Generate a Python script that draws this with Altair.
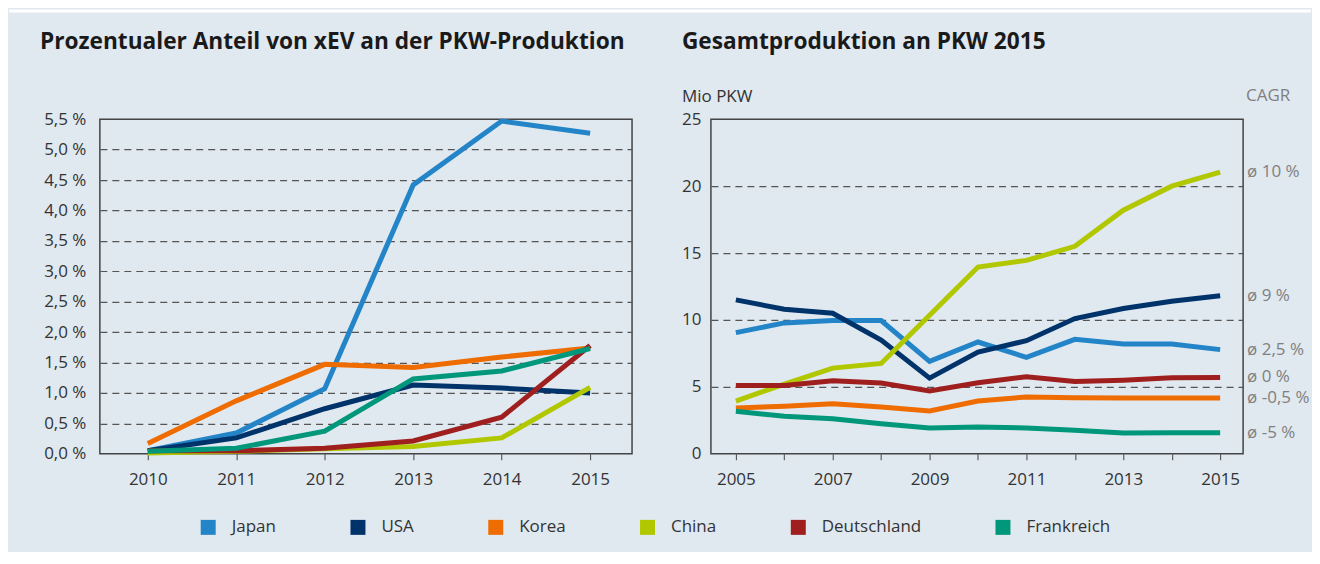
import altair as alt
import pandas as pd

# ---------------- data ----------------
countries = ["Japan", "USA", "Korea", "China", "Deutschland", "Frankreich"]
colors = ["#2385C7", "#00336A", "#EF6C00", "#B1C800", "#9F1F1F", "#00977A"]

years_share = [2010, 2011, 2012, 2013, 2014, 2015]
share_japan = [0.05, 0.34, 1.07, 4.42, 5.47, 5.27]
share_usa = [0.05, 0.26, 0.74, 1.13, 1.08, 1.00]
share_korea = [0.17, 0.87, 1.47, 1.42, 1.59, 1.74]
share_china = [0.01, 0.04, 0.08, 0.12, 0.26, 1.09]
share_germany = [0.05, 0.05, 0.09, 0.21, 0.60, 1.78]
share_france = [0.04, 0.09, 0.37, 1.23, 1.36, 1.73]

years_prod = [2005, 2006, 2007, 2008, 2009, 2010, 2011, 2012, 2013, 2014, 2015]
prod_japan = [9.05, 9.78, 9.95, 9.95, 6.90, 8.35, 7.20, 8.55, 8.20, 8.20, 7.78]
prod_usa = [11.50, 10.80, 10.50, 8.50, 5.65, 7.60, 8.45, 10.10, 10.85, 11.40, 11.80]
prod_korea = [3.42, 3.55, 3.74, 3.49, 3.19, 3.94, 4.24, 4.19, 4.16, 4.16, 4.16]
prod_china = [3.94, 5.20, 6.40, 6.75, 10.35, 13.95, 14.45, 15.50, 18.20, 20.00, 21.05]
prod_germany = [5.10, 5.10, 5.45, 5.28, 4.70, 5.30, 5.75, 5.40, 5.50, 5.68, 5.70]
prod_france = [3.17, 2.80, 2.62, 2.24, 1.92, 2.00, 1.93, 1.75, 1.55, 1.57, 1.57]

cagr_labels = ["ø 2,5 %", "ø 9 %", "ø -0,5 %", "ø 10 %", "ø 0 %", "ø -5 %"]

share_ticks = [0, 0.5, 1.0, 1.5, 2.0, 2.5, 3.0, 3.5, 4.0, 4.5, 5.0, 5.5]
prod_ticks = [0, 5, 10, 15, 20, 25]

title_left = "Prozentualer Anteil von xEV an der PKW-Produktion"
title_right = "Gesamtproduktion an PKW 2015"
unit_right = "Mio PKW"
cagr_header = "CAGR"

# ---------------- tables ----------------
share_series = [share_japan, share_usa, share_korea, share_china, share_germany, share_france]
prod_series = [prod_japan, prod_usa, prod_korea, prod_china, prod_germany, prod_france]

df_share = pd.DataFrame(
    [{"Land": c, "Jahr": y, "Wert": v}
     for c, s in zip(countries, share_series) for y, v in zip(years_share, s)]
)
df_prod = pd.DataFrame(
    [{"Land": c, "Jahr": y, "Wert": v}
     for c, s in zip(countries, prod_series) for y, v in zip(years_prod, s)]
)
df_cagr = pd.DataFrame(
    {"Land": countries, "Jahr": [years_prod[-1]] * 6,
     "Wert": [s[-1] for s in prod_series], "CAGR": cagr_labels}
)
df_legend = pd.DataFrame({"Land": countries})

# ---------------- style ----------------
FONT = "Open Sans"
PANEL = "#E0E8F0"
W, H = 533, 335
SPACING = 79
LABEL = "#333333"
GRID = "#555555"
FS = 17
TFS = 22.7

color_scale = alt.Scale(domain=countries, range=colors)
legend = alt.Legend(
    title=None, orient="none", direction="horizontal", columns=6,
    legendX=100, legendY=400,
    symbolType="square", symbolSize=225, symbolStrokeWidth=0, symbolOpacity=1,
    labelFontSize=FS, labelFont=FONT, labelColor=LABEL, labelOffset=15,
    columnPadding=73,
)

one = pd.DataFrame({"t": [0]})


def text_layer(txt, x, y, size=FS, weight="normal", color=LABEL, align="left"):
    return alt.Chart(pd.DataFrame({"t": [txt]})).mark_text(
        align=align, baseline="alphabetic", fontSize=size, fontWeight=weight,
        color=color, font=FONT
    ).encode(text="t:N", x=alt.value(x), y=alt.value(y))


def grid_cond(top):
    return {"condition": {"test": f"datum.value == 0 || datum.value == {top}", "value": 0}, "value": 1}


# ---------------- left chart ----------------
# invisible frame that fixes the extent of the panel, white strip on top
frame = alt.Chart(one).mark_rect(opacity=0).encode(
    x=alt.value(-91), x2=alt.value(1213), y=alt.value(-110), y2=alt.value(432))
strip = alt.Chart(one).mark_rect(color="white").encode(
    x=alt.value(-91), x2=alt.value(1213), y=alt.value(-110), y2=alt.value(-107))
# legend carrier (invisible marks)
legend_marks = alt.Chart(df_legend).mark_square(size=225, opacity=0, filled=True).encode(
    x=alt.value(20), y=alt.value(20),
    color=alt.Color("Land:N", scale=color_scale, legend=legend, sort=countries))

x_left = alt.X("Jahr:Q", scale=alt.Scale(domain=[2009.458, 2015.474], nice=False, zero=False),
               axis=alt.Axis(values=years_share, format="d", title=None, grid=False, domain=False,
                             tickSize=6, tickColor="#444444", tickWidth=1,
                             labelFontSize=FS, labelPadding=12, labelColor=LABEL, labelFont=FONT))
y_left = alt.Y("Wert:Q", scale=alt.Scale(domain=[0, 5.5], nice=False),
               axis=alt.Axis(values=share_ticks, title=None, domain=False, ticks=False, tickSize=0,
                             labelExpr="replace(format(datum.value, '.1f'), '.', ',') + ' %'",
                             labelFontSize=FS, labelPadding=14, labelColor=LABEL, labelFont=FONT,
                             grid=True, gridDash=[7, 5], gridColor=GRID, gridWidth=1.2,
                             gridOpacity=grid_cond(5.5)))

lines_left = alt.Chart(df_share).mark_line(strokeWidth=5).encode(
    x=x_left, y=y_left,
    color=alt.Color("Land:N", scale=color_scale, legend=None, sort=countries),
    detail="Land:N")

left = alt.layer(
    frame, strip, legend_marks, lines_left,
    text_layer(title_left, -60, -70, size=TFS, weight="bold", color="#1A1A1A"),
).properties(width=W, height=H)

# ---------------- right chart ----------------
x_right = alt.X("Jahr:Q", scale=alt.Scale(domain=[2004.485, 2015.474], nice=False, zero=False),
                axis=alt.Axis(values=years_prod, format="d", title=None, grid=False, domain=False,
                              labelExpr="datum.value % 2 == 1 ? datum.label : ''",
                              tickSize=6, tickColor="#444444", tickWidth=1,
                              labelFontSize=FS, labelPadding=12, labelColor=LABEL, labelFont=FONT))
y_right = alt.Y("Wert:Q", scale=alt.Scale(domain=[0, 25], nice=False),
                axis=alt.Axis(values=prod_ticks, title=None, domain=False, ticks=False, tickSize=0,
                              format="d",
                              labelFontSize=FS, labelPadding=10, labelColor=LABEL, labelFont=FONT,
                              grid=True, gridDash=[7, 5], gridColor=GRID, gridWidth=1.2,
                              gridOpacity=grid_cond(25)))

lines_right = alt.Chart(df_prod).mark_line(strokeWidth=5).encode(
    x=x_right, y=y_right,
    color=alt.Color("Land:N", scale=color_scale, legend=None, sort=countries),
    detail="Land:N")

cagr_text = alt.Chart(df_cagr).mark_text(
    align="left", baseline="middle", dx=27, fontSize=FS, color="#808080", font=FONT
).encode(x=alt.X("Jahr:Q"), y=alt.Y("Wert:Q"), text="CAGR:N")

right = alt.layer(
    lines_right, cagr_text,
    text_layer(title_right, -29, -70, size=TFS, weight="bold", color="#1A1A1A"),
    text_layer(unit_right, -29, -17),
    text_layer(cagr_header, W + 3, -18, color="#808080"),
).properties(width=W, height=H)

chart = alt.HConcatChart(hconcat=[left, right], spacing=SPACING, bounds="flush").properties(
    padding=0, autosize=alt.AutoSizeParams(type="pad")
).configure(font=FONT, background=PANEL).configure_view(stroke="#444444", strokeWidth=1.5)

chart.save("out.html", embed_options={"renderer": "svg", "actions": False})
